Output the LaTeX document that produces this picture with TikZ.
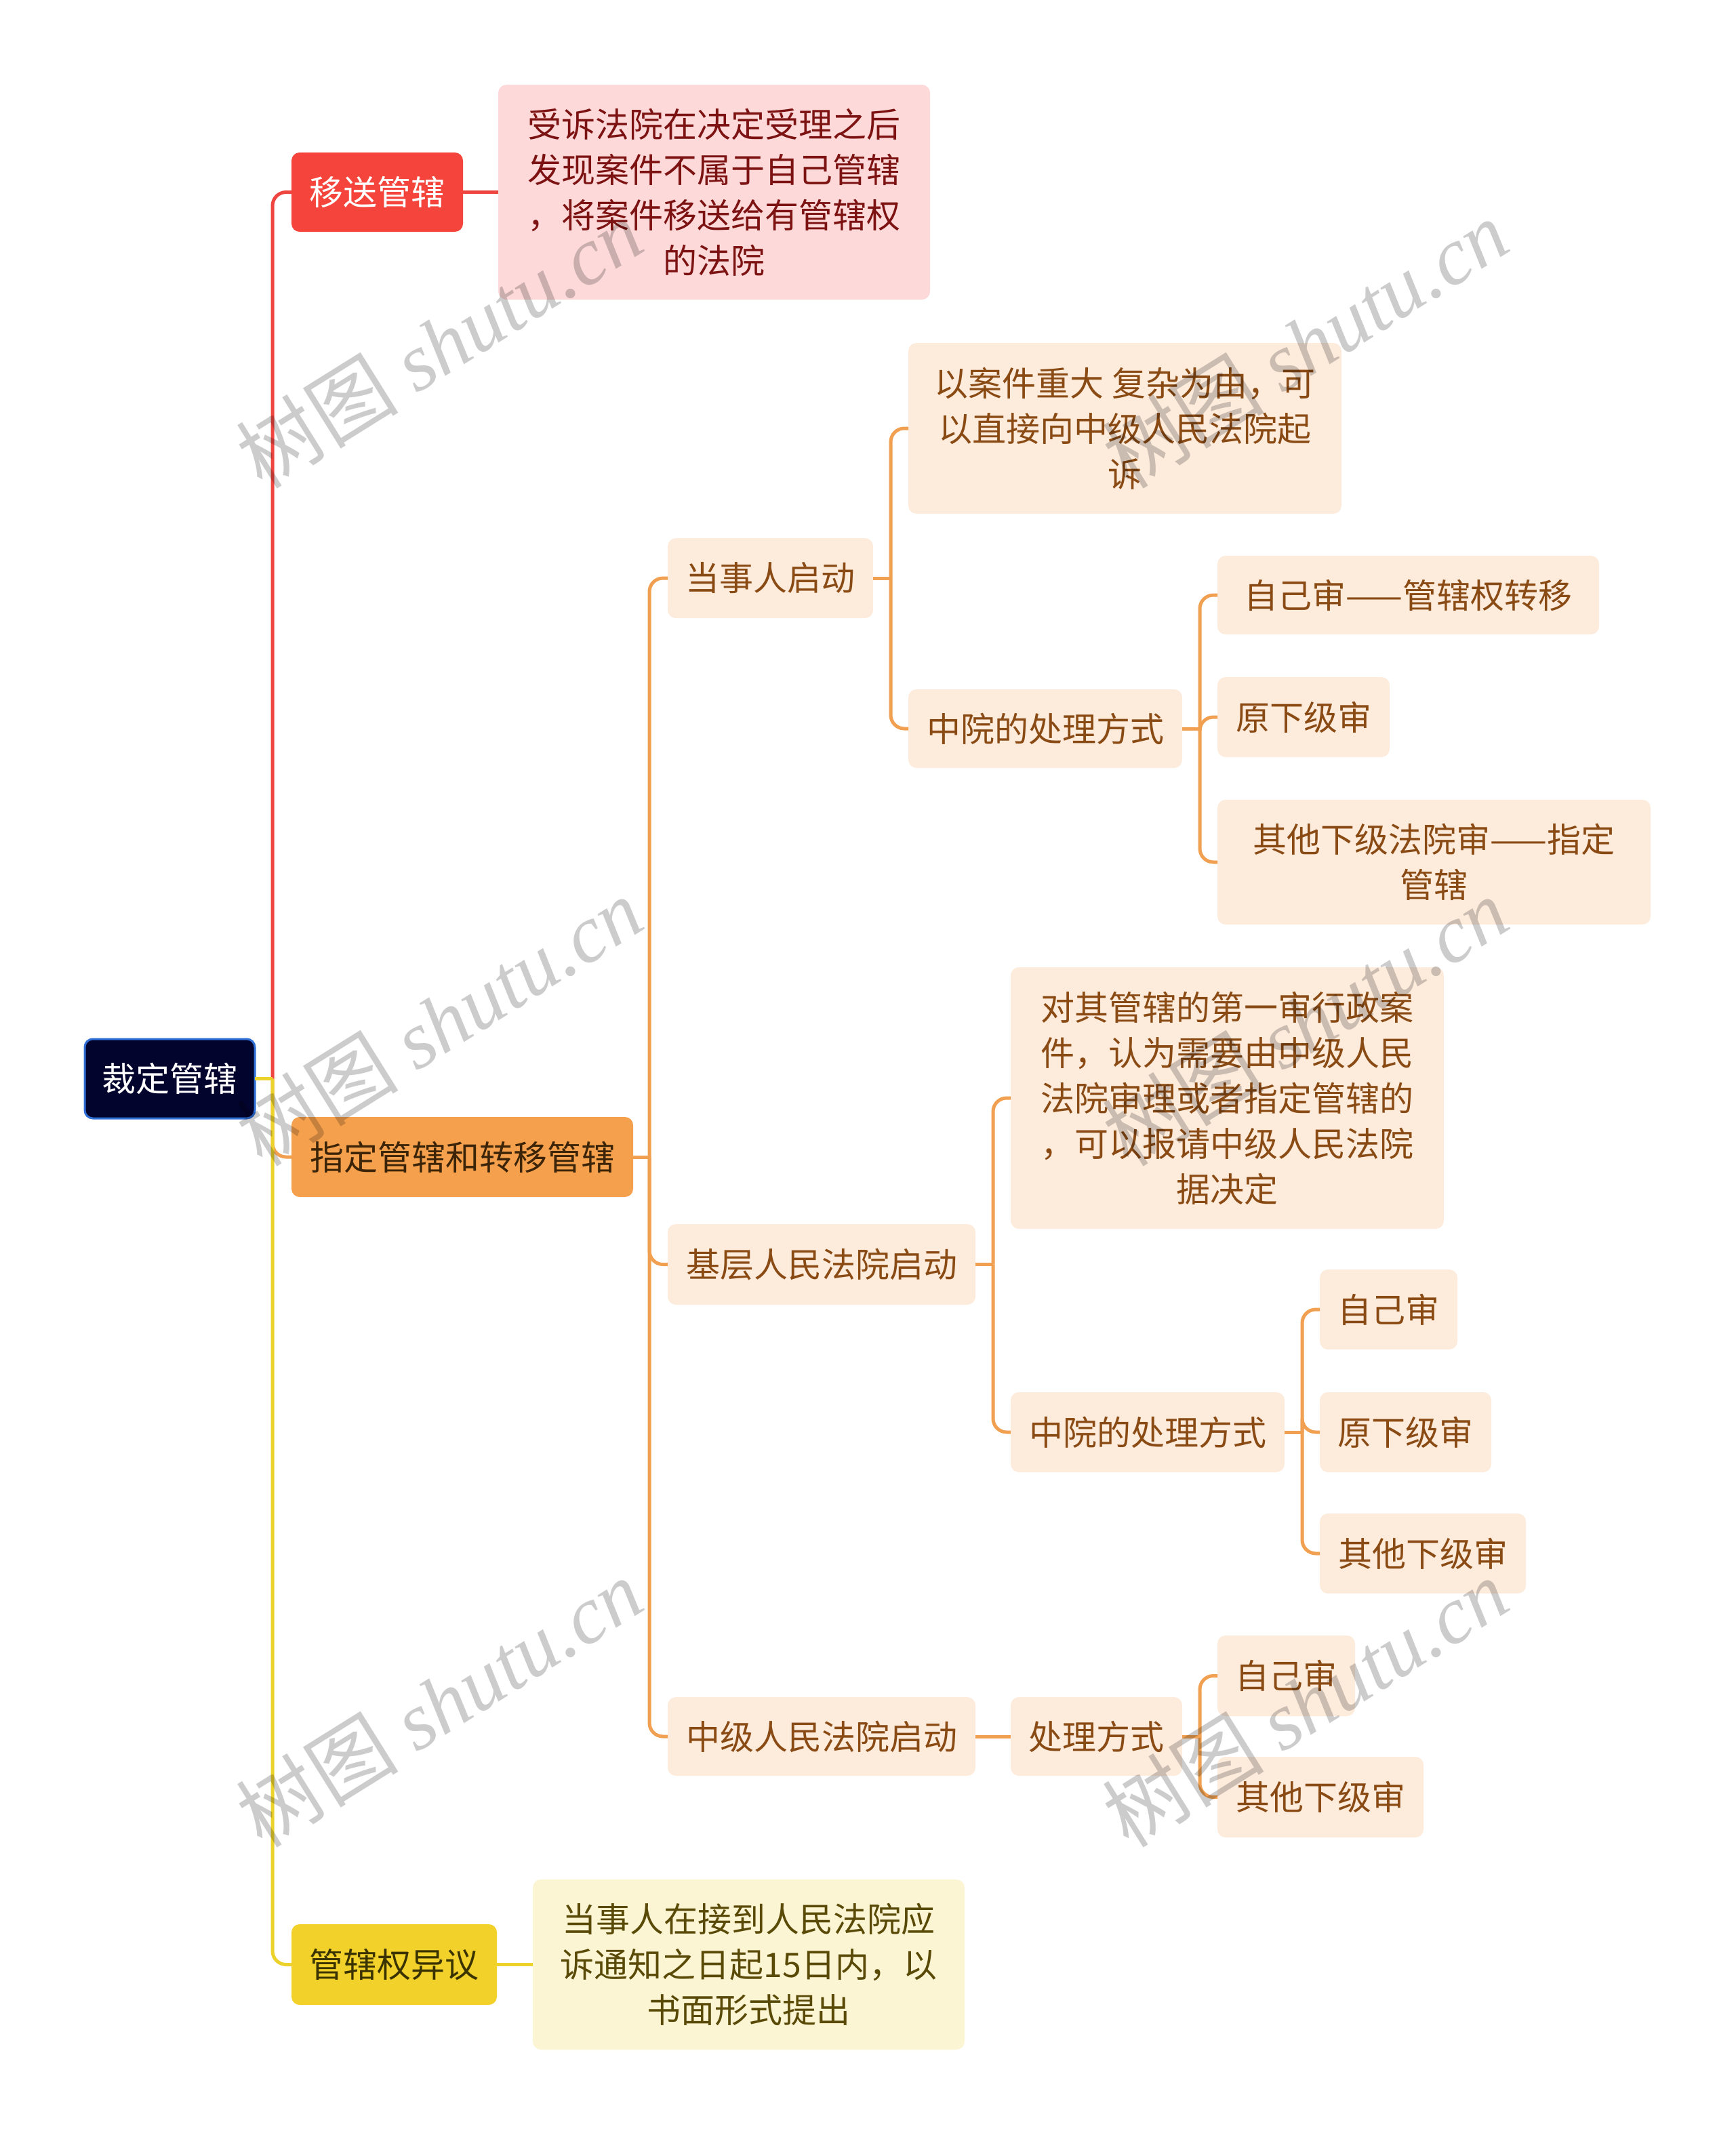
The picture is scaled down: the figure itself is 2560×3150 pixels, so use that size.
\documentclass[tikz,border=0pt]{standalone}
\usepackage{fontspec}
\setmainfont{Noto Sans CJK SC}
\newfontfamily\wmserif{Liberation Serif}
\definecolor{rootfill}{HTML}{03042E}
\definecolor{rootdraw}{HTML}{2F6FD6}
\definecolor{redfill}{HTML}{F5443B}
\definecolor{redline}{HTML}{EF4540}
\definecolor{pinkfill}{HTML}{FDD9D9}
\definecolor{pinktext}{HTML}{7D1212}
\definecolor{orfill}{HTML}{F5A04C}
\definecolor{ortext}{HTML}{3B2408}
\definecolor{orline}{HTML}{F0A050}
\definecolor{lofill}{HTML}{FDEBDC}
\definecolor{lotext}{HTML}{8A4A14}
\definecolor{yefill}{HTML}{F2D22A}
\definecolor{yetext}{HTML}{3A3300}
\definecolor{yeline}{HTML}{ECD22C}
\definecolor{lyfill}{HTML}{FCF5D3}
\definecolor{lytext}{HTML}{5A4A08}
\begin{document}
\begin{tikzpicture}[x=1pt,y=-1pt,
  box/.style={rounded corners=12pt, inner sep=0pt, outer sep=0pt, align=center,
    font=\fontsize{50}{67}\selectfont},
  rootbox/.style={box, fill=rootfill, draw=rootdraw, line width=3pt, text=white},
  redbox/.style={box, fill=redfill, text=white},
  pinkbox/.style={box, fill=pinkfill, text=pinktext},
  orbox/.style={box, fill=orfill, text=ortext},
  lobox/.style={box, fill=lofill, text=lotext},
  yebox/.style={box, fill=yefill, text=yetext},
  lybox/.style={box, fill=lyfill, text=lytext},
  conn/.style={line width=5pt, rounded corners=20pt},
  rconn/.style={conn, draw=redline},
  oconn/.style={conn, draw=orline},
  yconn/.style={conn, draw=yeline},
  wm/.style={text=black, text opacity=0.2, rotate=32, inner sep=0pt}
]
\useasboundingbox (0,0) rectangle (2560,3150);

% nodes
\node[rootbox, minimum width=251pt, minimum height=117pt] (root) at (250.5,1591.5) {裁定管辖};
\node[redbox, minimum width=253pt, minimum height=117pt] (yisong) at (556.5,283.5) {移送管辖};
\node[pinkbox, minimum width=637pt, minimum height=317pt] (t1) at (1053.5,283.5) {受诉法院在决定受理之后\\发现案件不属于自己管辖\\，将案件移送给有管辖权\\的法院};
\node[orbox, minimum width=504pt, minimum height=118pt] (zhiding) at (682,1707) {指定管辖和转移管辖};
\node[yebox, minimum width=303pt, minimum height=119pt] (yiyi) at (581.5,2898.5) {管辖权异议};
\node[lybox, minimum width=637pt, minimum height=251pt] (t3) at (1104.5,2898.5) {当事人在接到人民法院应\\诉通知之日起15日内，以\\书面形式提出};

\node[lobox, minimum width=303pt, minimum height=118pt] (dangshi) at (1136.5,853) {当事人启动};
\node[lobox, minimum width=639pt, minimum height=252pt] (yaj) at (1659.5,632) {以案件重大 复杂为由，可\\以直接向中级人民法院起\\诉};
\node[lobox, minimum width=404pt, minimum height=116pt] (zy1) at (1542,1075) {中院的处理方式};
\node[lobox, minimum width=563pt, minimum height=116pt] (a1) at (2077.5,878) {自己审——管辖权转移};
\node[lobox, minimum width=254pt, minimum height=118pt] (a2) at (1923,1058) {原下级审};
\node[lobox, minimum width=639pt, minimum height=184pt] (a3) at (2115.5,1272) {其他下级法院审——指定\\管辖};

\node[lobox, minimum width=454pt, minimum height=119pt] (jiceng) at (1212,1865.5) {基层人民法院启动};
\node[lobox, minimum width=639pt, minimum height=386pt] (duiqi) at (1810.5,1620) {对其管辖的第一审行政案\\件，认为需要由中级人民\\法院审理或者指定管辖的\\，可以报请中级人民法院\\据决定};
\node[lobox, minimum width=404pt, minimum height=118pt] (zy2) at (1693,2113) {中院的处理方式};
\node[lobox, minimum width=203pt, minimum height=118pt] (b1) at (2048.5,1932) {自己审};
\node[lobox, minimum width=253pt, minimum height=118pt] (b2) at (2073.5,2113) {原下级审};
\node[lobox, minimum width=304pt, minimum height=118pt] (b3) at (2099,2292) {其他下级审};

\node[lobox, minimum width=454pt, minimum height=116pt] (zhongji) at (1212,2562) {中级人民法院启动};
\node[lobox, minimum width=253pt, minimum height=116pt] (cl) at (1617.5,2562) {处理方式};
\node[lobox, minimum width=203pt, minimum height=119pt] (c1) at (1897.5,2472.5) {自己审};
\node[lobox, minimum width=304pt, minimum height=119pt] (c2) at (1948,2651.5) {其他下级审};

% junction coordinates
\coordinate (j0) at (402,1591.5);
\coordinate (j1) at (958,1707);
\coordinate (j2) at (1314,853);
\coordinate (j3) at (1770,1075);
\coordinate (j4) at (1465,1865.5);
\coordinate (j5) at (1921,2113);
\coordinate (j6) at (1770,2562);

% level 1 connectors
\draw[oconn] (j0) |- (zhiding.west);
\draw[rconn] (j0) |- (yisong.west);
\draw[rconn] (yisong.east) -- (t1.west);
\draw[yconn] (root.east) -- (j0);
\draw[yconn] (j0) |- (yiyi.west);
\draw[yconn] (yiyi.east) -- (t3.west);

% orange connectors
\draw[oconn] (zhiding.east) -- (j1);
\draw[oconn] (j1) |- (dangshi.west);
\draw[oconn] (j1) |- (jiceng.west);
\draw[oconn] (j1) |- (zhongji.west);

\draw[oconn] (dangshi.east) -- (j2);
\draw[oconn] (j2) |- (yaj.west);
\draw[oconn] (j2) |- (zy1.west);

\draw[oconn] (zy1.east) -- (j3);
\draw[oconn] (j3) |- (a1.west);
\draw[oconn] (j3) |- (a2.west);
\draw[oconn] (j3) |- (a3.west);

\draw[oconn] (jiceng.east) -- (j4);
\draw[oconn] (j4) |- (duiqi.west);
\draw[oconn] (j4) |- (zy2.west);

\draw[oconn] (zy2.east) -- (j5);
\draw[oconn] (j5) |- (b1.west);
\draw[oconn] (j5) |- (b2.west);
\draw[oconn] (j5) |- (b3.west);

\draw[oconn] (zhongji.east) -- (cl.west);
\draw[oconn] (cl.east) -- (j6);
\draw[oconn] (j6) |- (c1.west);
\draw[oconn] (j6) |- (c2.west);

% watermarks
\foreach \wx/\wy [count=\i] in {648/507, 1925/507, 648/1507, 1925/1507, 648/2512, 1925/2512}{
  \node[wm] (wm\i) at (\wx,\wy) {\fontsize{120}{120}\selectfont 树图 {\wmserif\itshape shutu.cn}};
}
\end{tikzpicture}
\end{document}
